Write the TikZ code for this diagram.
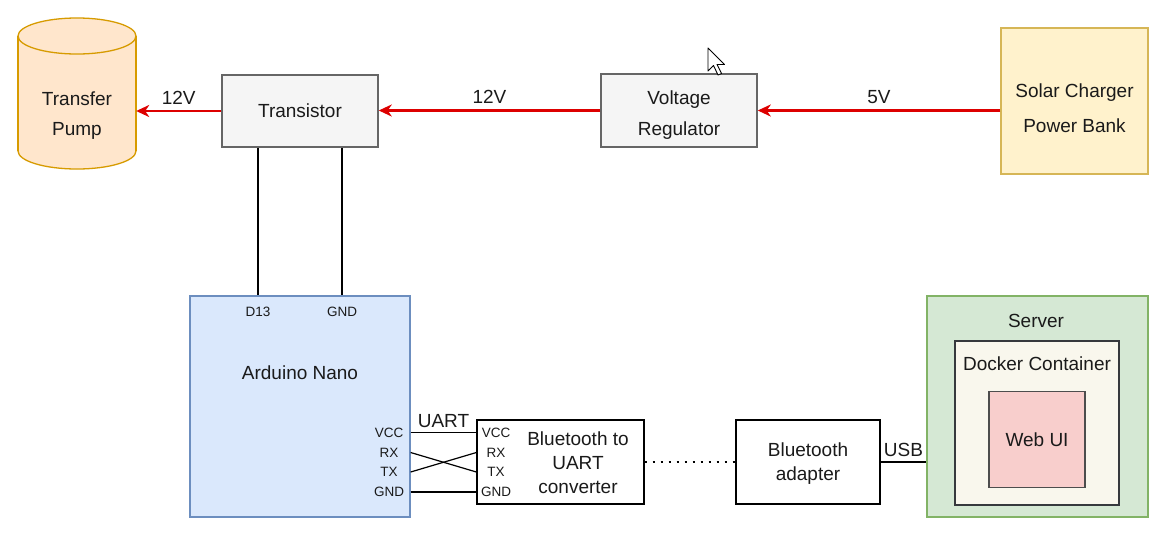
\documentclass[tikz,border=0pt]{standalone}
\usepackage{fontspec}
\setmainfont{Liberation Sans}
\usetikzlibrary{arrows.meta}
\definecolor{txt}{HTML}{1A1A1A}
\definecolor{pumpfill}{HTML}{FFE6CC}
\definecolor{pumpline}{HTML}{D79B00}
\definecolor{grayfill}{HTML}{F5F5F5}
\definecolor{grayline}{HTML}{666666}
\definecolor{solarfill}{HTML}{FFF2CC}
\definecolor{solarline}{HTML}{D6B656}
\definecolor{ardfill}{HTML}{DAE8FC}
\definecolor{ardline}{HTML}{6C8EBF}
\definecolor{srvfill}{HTML}{D5E8D4}
\definecolor{srvline}{HTML}{82B366}
\definecolor{dockfill}{HTML}{F9F7ED}
\definecolor{dockline}{HTML}{36393D}
\definecolor{webfill}{HTML}{F8CECC}
\definecolor{webline}{HTML}{4D4D4D}
\definecolor{pred}{RGB}{221,0,0}
\begin{document}
\begin{tikzpicture}[x=1pt,y=-1pt,
  every node/.style={text=txt},
  bigtext/.style={font=\fontsize{19}{30}\selectfont, align=center},
  pintext/.style={font=\fontsize{13.5}{16}\selectfont, inner sep=0pt},
  blockbox/.style={draw=#1, line width=1.5pt, inner sep=0pt, bigtext},
  power/.style={draw=pred, line width=2.5pt, -{Stealth[length=13pt,width=12pt,inset=4pt]}},
  ctrlwire/.style={draw=black, line width=2.6pt},
  sigwire/.style={draw=black, line width=1.2pt},
  dotwire/.style={draw=black, line width=2pt, dash pattern=on 2pt off 6pt}
]
\useasboundingbox (0,0) rectangle (1174,539);
\fill[white] (0,0) rectangle (1174,539);

% --- Transfer pump (cylinder) ---
\fill[pumpfill] (18,36) rectangle (136,151);
\fill[pumpfill] (77,151) ellipse [x radius=59pt, y radius=18pt];
\fill[pumpfill] (77,36) ellipse [x radius=59pt, y radius=18pt];
\draw[pumpline, line width=1.3pt] (77,36) ellipse [x radius=59pt, y radius=18pt];
\draw[pumpline, line width=1.3pt] (18,36) -- (18,151) (136,36) -- (136,151);
\begin{scope}
  \clip (0,151) rectangle (160,180);
  \draw[pumpline, line width=1.3pt] (77,151) ellipse [x radius=59pt, y radius=18pt];
\end{scope}
\node[minimum width=118pt, minimum height=151pt, inner sep=0pt] (pump) at (77,93.5) {};
\node[bigtext] (pumptxt) at (77,116) {Transfer\\Pump};

% --- Power chain ---
\node[blockbox=grayline, fill=grayfill, minimum width=156pt, minimum height=72pt] (tr) at (300,111) {Transistor};
\node[blockbox=grayline, fill=grayfill, minimum width=156pt, minimum height=73pt] (vr) at (679,110.5) {};
\node[bigtext, font=\fontsize{19}{31}\selectfont] (vrtxt) at (679,115) {Voltage\\Regulator};
\node[blockbox=solarline, fill=solarfill, minimum width=147pt, minimum height=146pt] (solar) at (1074.5,101) {};
\node[bigtext, font=\fontsize{19}{35}\selectfont] (solartxt) at (1074.5,108) {Solar Charger\\Power Bank};

\draw[power] (solar.west |- vr.east) -- node[midway, above=2pt, font=\fontsize{19}{22}\selectfont] (l5v) {5V} (vr.east);
\draw[power] (vr.west) -- node[midway, above=2pt, font=\fontsize{19}{22}\selectfont] (l12a) {12V} (vr.west -| tr.east);
\draw[power] (tr.west) -- node[midway, above=2pt, font=\fontsize{19}{22}\selectfont] (l12b) {12V} (tr.west -| pump.east);

% --- Arduino ---
\node[draw=ardline, fill=ardfill, line width=1.3pt, minimum width=220pt, minimum height=221pt, inner sep=0pt] (ard) at (300,406.5) {};
\node[pintext] (d13) at (258,312) {D13};
\node[pintext] (agnd) at (342,312) {GND};
\node[bigtext] (ardtxt) at (300,373) {Arduino Nano};
\node[pintext] (avcc) at (389,432.5) {VCC};
\node[pintext] (arx) at (389,452.5) {RX};
\node[pintext] (atx) at (389,472) {TX};
\node[pintext] (agnd2) at (389,492) {GND};

\draw[ctrlwire] (tr.south -| d13) -- (ard.north -| d13);
\draw[ctrlwire] (tr.south -| agnd) -- (ard.north -| agnd);

% --- Bluetooth to UART converter ---
\node[draw=black, fill=white, line width=1.3pt, minimum width=167pt, minimum height=84pt, inner sep=0pt] (conv) at (560.5,462) {};
\node[bigtext, font=\fontsize{19}{24}\selectfont] (convtxt) at (578,463) {Bluetooth to\\UART\\converter};
\node[pintext] (cvcc) at (496,432.5) {VCC};
\node[pintext] (crx) at (496,452.5) {RX};
\node[pintext] (ctx) at (496,472) {TX};
\node[pintext] (cgnd) at (496,492) {GND};

\draw[sigwire] (ard.east |- avcc) -- node[midway, above=1pt, font=\fontsize{19}{22}\selectfont] (uart) {UART} (conv.west |- cvcc);
\draw[sigwire] (ard.east |- arx) -- (conv.west |- ctx);
\draw[sigwire] (ard.east |- atx) -- (conv.west |- crx);
\draw[sigwire] (ard.east |- agnd2) -- (conv.west |- cgnd);

% --- Bluetooth adapter ---
\node[draw=black, fill=white, line width=1.3pt, minimum width=144pt, minimum height=84pt, inner sep=0pt] (bta) at (808,462) {};
\node[bigtext, font=\fontsize{19}{24}\selectfont] (btatxt) at (808,464) {Bluetooth\\adapter};
\draw[dotwire] (conv.east) -- (bta.west);

% --- Server ---
\node[draw=srvline, fill=srvfill, line width=1.3pt, minimum width=221pt, minimum height=221pt, inner sep=0pt] (srv) at (1037.5,406.5) {};
\node[bigtext] (srvtxt) at (1036,321) {Server};
\node[draw=dockline, fill=dockfill, line width=1.3pt, minimum width=164pt, minimum height=164pt, inner sep=0pt] (dock) at (1037,423) {};
\node[bigtext] (docktxt) at (1037,364) {Docker Container};
\node[draw=webline, fill=webfill, line width=1.5pt, minimum width=96pt, minimum height=96pt, inner sep=0pt, bigtext] (web) at (1037,439.5) {Web UI};

\draw[sigwire] (bta.east) -- node[midway, above=1pt, font=\fontsize{19}{22}\selectfont] (usb) {USB} (bta.east -| srv.west);

% --- mouse pointer ---
\draw[black, fill=white, line width=0.9pt, line join=round]
  (708,48) -- (708,71) -- (713.5,65.5) -- (718,75) -- (721.5,73.5) -- (717,64.5) -- (724.5,64.5) -- cycle;
\end{tikzpicture}
\end{document}
